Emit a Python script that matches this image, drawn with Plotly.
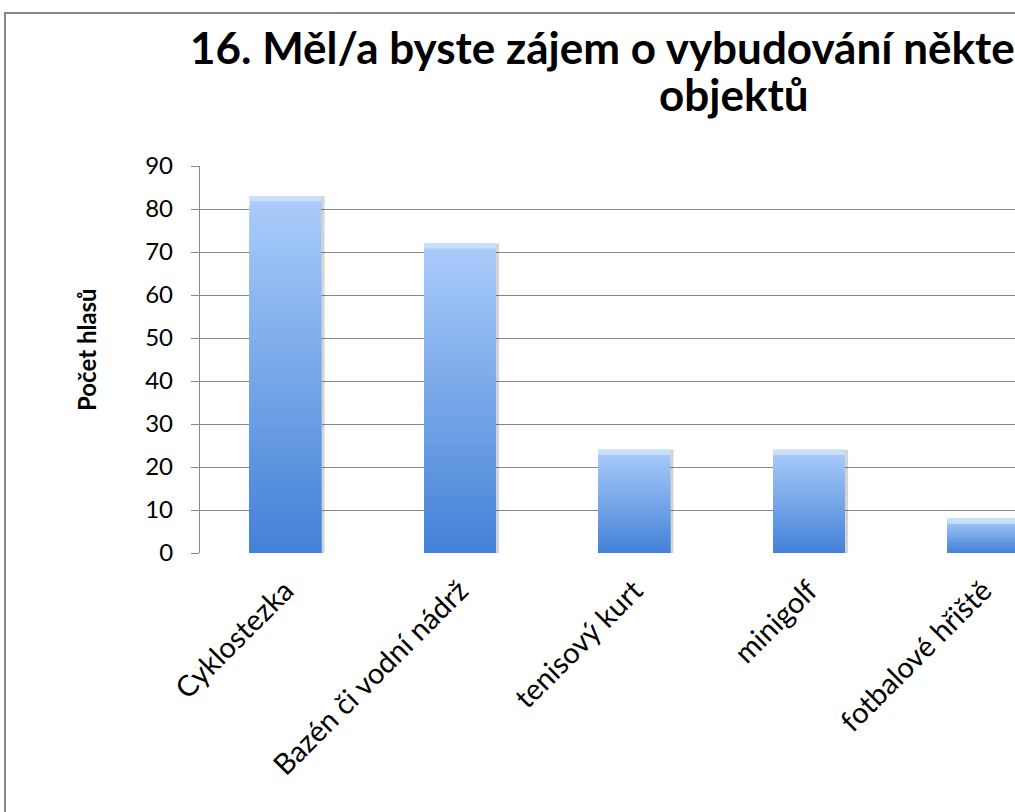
import plotly.graph_objects as go

# Survey answers: number of votes per proposed facility
categories = ["Cyklostezka", "Bazén či vodní nádrž", "tenisový kurt", "minigolf", "fotbalové hřiště"]
votes = [83, 72, 24, 24, 8]
y_ticks = [0, 10, 20, 30, 40, 50, 60, 70, 80, 90]

title_line1 = "16. Měl/a byste zájem o vybudování některého z těchto"
title_line2 = "objektů"
y_title = "Počet hlasů"

W, H = 1015, 812
L, T, B = 200, 166, 259
PW = W - L
PH = H - T - B
step_px = 174.5
x0 = -(285.3 - L) / step_px
x1 = x0 + PW / step_px

bar_w = 0.41
top_rgb = (170, 204, 250)
bot_rgb = (68, 130, 215)


def mix(a, b, t):
    return "rgb(%d,%d,%d)" % tuple(round(a[i] + (b[i] - a[i]) * t) for i in range(3))


fig = go.Figure()

# soft drop shadow to the right of each bar
fig.add_trace(go.Bar(
    x=categories, y=votes, width=bar_w, offset=-bar_w / 2 + 0.02,
    marker=dict(color="rgba(60,60,60,0.22)", line=dict(width=0)),
    hoverinfo="skip", showlegend=False,
))

# vertical gradient: stacked layers from full height (light) to short (dark)
N = 40
for k in range(N):
    frac = (N - k) / N
    fig.add_trace(go.Bar(
        x=categories, y=[v * frac for v in votes], width=bar_w,
        marker=dict(color=mix(top_rgb, bot_rgb, k / (N - 1)), line=dict(width=0)),
        hoverinfo="skip", showlegend=False,
    ))

# light bevel along the top edge of each bar
cap = 1.2
fig.add_trace(go.Bar(
    x=categories, y=[cap] * len(votes), base=[v - cap for v in votes], width=bar_w,
    marker=dict(color="rgb(200,224,252)", line=dict(width=0)),
    hoverinfo="skip", showlegend=False,
))

font = "Lato, 'Open Sans', sans-serif"

fig.update_layout(
    width=W, height=H,
    margin=dict(l=L, r=0, t=T, b=B, pad=0),
    paper_bgcolor="white", plot_bgcolor="white",
    barmode="overlay", showlegend=False,
    font=dict(family=font, color="black"),
    xaxis=dict(
        type="category", range=[x0, x1], tickangle=-45,
        tickfont=dict(size=29, family=font, color="black"),
        showgrid=False, showline=False, zeroline=False, ticks="",
        ticklabelstandoff=14,
    ),
    yaxis=dict(
        range=[0, 90], tickvals=y_ticks, ticks="outside", ticklen=8,
        tickcolor="#878787", tickwidth=1.3,
        tickfont=dict(size=24, family=font, color="black"),
        showgrid=True, gridcolor="#878787", gridwidth=1.3,
        showline=True, linecolor="#878787", linewidth=1.3,
        zeroline=False, ticklabelstandoff=13,
    ),
    shapes=[dict(
        type="rect", xref="paper", yref="paper", layer="below",
        x0=(5 - L) / PW, x1=1.2, y0=-1.0, y1=(H - B - 13) / PH,
        line=dict(color="#898989", width=2), fillcolor="rgba(0,0,0,0)",
    )],
    annotations=[
        dict(text="<b>%s</b>" % title_line1, xref="paper", yref="paper",
             x=(188 - L) / PW, y=(H - B - 19) / PH, xanchor="left", yanchor="top",
             showarrow=False, font=dict(size=44, family=font, color="black")),
        dict(text="<b>%s</b>" % title_line2, xref="paper", yref="paper",
             x=(734 - L) / PW, y=(H - B - 66) / PH, xanchor="center", yanchor="top",
             showarrow=False, font=dict(size=44, family=font, color="black")),
        dict(text="<b>%s</b>" % y_title, xref="paper", yref="paper",
             x=(86 - L) / PW, y=(H - B - 350) / PH, xanchor="center", yanchor="middle",
             textangle=-90, showarrow=False, font=dict(size=24, family=font, color="black")),
    ],
)

fig.write_html("out.html")
